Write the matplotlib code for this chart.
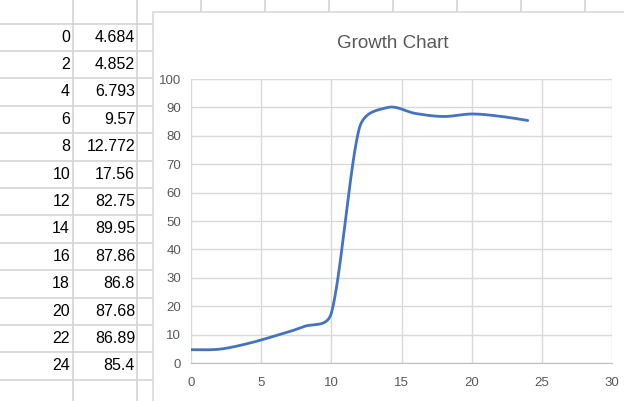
import matplotlib
matplotlib.use("Agg")
import matplotlib.pyplot as plt
from matplotlib.patches import Rectangle
from matplotlib.lines import Line2D
import numpy as np

plt.rcParams['font.family'] = ['Liberation Sans', 'DejaVu Sans']

# sheet data: age vs. size
x_vals = [0, 2, 4, 6, 8, 10, 12, 14, 16, 18, 20, 22, 24]
y_vals = [4.684, 4.852, 6.793, 9.57, 12.772, 17.56, 82.75, 89.95, 87.86, 86.8, 87.68, 86.89, 85.4]
x_ticks = [0, 5, 10, 15, 20, 25, 30]
y_ticks = [0, 10, 20, 30, 40, 50, 60, 70, 80, 90, 100]
chart_title = "Growth Chart"

W, H = 624, 401


def fx(px):
    return px / W


def fy(py):
    return 1 - py / H


def smooth_curve(xs, ys, sx=1.0, sy=1.0, n=60):
    # cubic Bezier through the points, Catmull-Rom tangents (1/6 of neighbour span),
    # each control arm capped at half the length of its segment (screen space)
    p = np.column_stack([xs, ys]).astype(float)
    m = len(p)
    scale = np.array([sx, sy])
    seg_len = np.hypot(*(np.diff(p, axis=0) * scale).T)
    c_out = p.copy()
    c_in = p.copy()
    for i in range(m):
        tan = (p[min(i + 1, m - 1)] - p[max(i - 1, 0)]) / 6
        arm = np.hypot(*(tan * scale))
        if arm == 0:
            continue
        if i < m - 1:
            c_out[i] = p[i] + tan * min(1.0, 0.5 * seg_len[i] / arm)
        if i > 0:
            c_in[i] = p[i] - tan * min(1.0, 0.5 * seg_len[i - 1] / arm)
    out = []
    t = np.linspace(0, 1, n)[:, None]
    for i in range(m - 1):
        p0, c1, c2, p3 = p[i], c_out[i], c_in[i + 1], p[i + 1]
        seg = ((1 - t) ** 3) * p0 + 3 * ((1 - t) ** 2) * t * c1 + 3 * (1 - t) * t ** 2 * c2 + t ** 3 * p3
        out.append(seg if i == 0 else seg[1:])
    out = np.vstack(out)
    return out[:, 0], out[:, 1]


fig = plt.figure(figsize=(W / 100, H / 100), dpi=100)
fig.patch.set_facecolor('white')

cell_line = '#d4d4d4'
row_h = 27.4
row0 = 23.5

# spreadsheet grid
for i in range(len(x_vals) + 2):
    yy = row0 + i * row_h
    fig.add_artist(Line2D([0, fx(153)], [fy(yy), fy(yy)], color=cell_line, lw=1.2))
for cx in range(73, W + 64, 64):
    fig.add_artist(Line2D([fx(cx), fx(cx)], [0, 1], color=cell_line, lw=1.2))

for i, (xv, yv) in enumerate(zip(x_vals, y_vals)):
    yc = row0 + (i + 0.5) * row_h
    fig.text(fx(70), fy(yc), f"{xv}", ha='right', va='center', fontsize=11.5, color='black')
    fig.text(fx(135), fy(yc), f"{yv:g}", ha='right', va='center', fontsize=11.5, color='black')

# chart area
fig.add_artist(Rectangle((fx(153), -0.05), 1.0, fy(12) + 0.05, transform=fig.transFigure,
                         facecolor='white', edgecolor='#d9d9d9', lw=1.2, zorder=2))

ax_left, ax_right, ax_top, ax_bot = 191, 612, 79, 363
ax = fig.add_axes([fx(ax_left), fy(ax_bot), fx(ax_right) - fx(ax_left), fy(ax_top) - fy(ax_bot)], zorder=3)
ax.set_facecolor('none')
ax.set_xlim(0, 30)
ax.set_ylim(0, 100)

px_per_x = (ax_right - ax_left) / 30
px_per_y = (ax_bot - ax_top) / 100
cx_, cy_ = smooth_curve(x_vals, y_vals, px_per_x, px_per_y)
ax.plot(cx_, cy_, color='#4472C4', lw=2.0, solid_capstyle='round')

ax.set_xticks(x_ticks)
ax.set_yticks(y_ticks)
ax.grid(True, color='#d9d9d9', lw=1.0)
ax.set_axisbelow(True)
for side in ['top', 'right', 'left']:
    ax.spines[side].set_visible(False)
ax.spines['bottom'].set_color('#bfbfbf')
ax.tick_params(length=0, labelsize=9.5, colors='#595959', pad=7)
ax.tick_params(axis='x', pad=10)

fig.text(fx(393), fy(43), chart_title, ha='center', va='center', fontsize=13.5, color='#595959')

fig.savefig('out.png', dpi=100)
